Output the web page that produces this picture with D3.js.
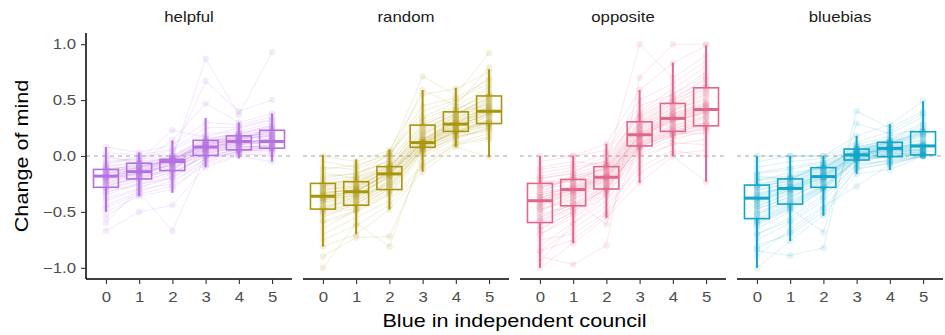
<!DOCTYPE html>
<html>
<head>
<meta charset="utf-8">
<script src="https://cdn.jsdelivr.net/npm/d3@7"></script>
<style>
  body { margin: 0; background: #fff; }
  svg text { font-family: "Liberation Sans", Arial, sans-serif; }
</style>
</head>
<body>
<svg id="chart" width="945" height="335"></svg>
<script>
// facets and x categories
const conditions = ["helpful", "random", "opposite", "bluebias"];
const colors = ["#b570e0", "#a8960a", "#e0668a", "#11a5c9"];
const blueCounts = [0, 1, 2, 3, 4, 5];
const yTicks = [-1.0, -0.5, 0.0, 0.5, 1.0];

// boxplot stats per condition, one entry per blue count
const boxQ1 = [
  [-0.28, -0.205, -0.13, 0.005, 0.055, 0.07],
  [-0.475, -0.44, -0.30, 0.078, 0.22, 0.29],
  [-0.595, -0.445, -0.295, 0.09, 0.22, 0.27],
  [-0.56, -0.43, -0.28, -0.036, -0.006, 0.01]
];
const boxMedian = [
  [-0.18, -0.14, -0.05, 0.08, 0.13, 0.13],
  [-0.36, -0.32, -0.16, 0.12, 0.285, 0.40],
  [-0.40, -0.30, -0.19, 0.19, 0.336, 0.416],
  [-0.377, -0.29, -0.184, 0.01, 0.068, 0.09]
];
const boxQ3 = [
  [-0.12, -0.065, -0.03, 0.14, 0.18, 0.23],
  [-0.245, -0.23, -0.095, 0.276, 0.395, 0.537],
  [-0.245, -0.21, -0.095, 0.306, 0.47, 0.61],
  [-0.26, -0.205, -0.104, 0.062, 0.122, 0.217]
];
const whiskerLow = [
  [-0.50, -0.36, -0.33, -0.10, -0.02, -0.05],
  [-0.81, -0.70, -0.48, -0.14, 0.08, -0.01],
  [-1.00, -0.78, -0.555, -0.24, 0.00, -0.23],
  [-1.00, -0.76, -0.535, -0.16, -0.125, 0.00]
];
const whiskerHigh = [
  [0.08, 0.03, 0.14, 0.34, 0.30, 0.38],
  [0.01, -0.03, 0.06, 0.59, 0.61, 0.775],
  [0.00, 0.00, 0.11, 0.59, 0.835, 0.99],
  [0.00, 0.00, 0.00, 0.18, 0.285, 0.49]
];

// individual participants: change of mind at blue = 0..5
const helpfulRows = [
  [-0.18,-0.14,-0.05,0.08,0.13,0.13],
  [-0.25,-0.20,-0.10,0.02,0.08,0.10],
  [-0.12,-0.08,-0.03,0.12,0.17,0.20],
  [-0.30,-0.22,-0.15,0.00,0.06,0.08],
  [-0.20,-0.15,-0.04,0.10,0.15,0.25],
  [-0.10,-0.05,0.00,0.14,0.18,0.23],
  [-0.50,-0.36,-0.30,-0.05,0.05,0.05],
  [0.08,0.03,0.10,0.30,0.28,0.35],
  [-0.28,-0.18,-0.12,0.05,0.10,0.12],
  [-0.15,-0.10,-0.02,0.08,0.12,0.15],
  [-0.22,-0.12,-0.06,0.06,0.14,0.18],
  [-0.67,-0.50,-0.44,-0.10,0.00,-0.05],
  [-0.05,-0.02,0.05,0.20,0.22,0.30],
  [-0.35,-0.25,-0.20,0.03,0.07,0.10],
  [-0.18,-0.16,-0.08,0.12,0.13,0.14],
  [-0.40,-0.30,-0.25,-0.02,0.04,0.07],
  [-0.14,-0.06,0.14,0.47,0.30,0.38],
  [-0.08,0.00,0.02,0.67,0.40,0.50],
  [-0.20,-0.10,-0.03,0.87,0.37,0.93],
  [-0.55,-0.33,-0.67,0.00,0.02,0.00],
  [-0.26,-0.20,-0.13,0.09,0.16,0.22],
  [-0.16,-0.12,-0.04,0.14,0.20,0.26],
  [-0.60,-0.28,-0.18,0.04,0.09,0.06],
  [-0.02,-0.04,0.23,0.17,0.25,0.32],
  [-0.24,-0.18,-0.07,0.08,0.11,0.16],
  [-0.32,-0.26,-0.16,0.01,0.05,0.09],
  [-0.11,-0.09,-0.05,0.10,0.18,0.20],
  [-0.19,-0.13,-0.09,0.06,0.12,0.12],
  [-0.44,-0.32,-0.22,-0.06,0.03,0.04],
  [0.00,-0.07,-0.01,0.16,0.19,0.28],
  [-0.21,-0.16,-0.06,0.07,0.14,0.11],
  [-0.13,-0.11,-0.02,0.11,0.16,0.17],
  [-0.27,-0.19,-0.11,0.03,0.09,0.08],
  [-0.17,-0.14,-0.04,0.09,0.13,0.15],
  [-0.23,-0.17,-0.07,0.04,0.10,0.13],
  [-0.09,-0.06,-0.01,0.13,0.17,0.21],
  [-0.29,-0.21,-0.12,0.02,0.08,0.09],
  [-0.15,-0.13,-0.03,0.10,0.15,0.19],
  [-0.20,-0.09,-0.05,0.12,0.14,0.24],
  [-0.33,-0.24,-0.14,-0.01,0.06,0.07],
  [-0.06,-0.03,0.01,0.15,0.21,0.27],
  [-0.19,-0.17,-0.06,0.07,0.12,0.14],
  [-0.25,-0.14,-0.08,0.05,0.11,0.12],
  [-0.38,-0.29,-0.19,-0.03,0.04,0.06],
  [-0.12,-0.10,-0.04,0.13,0.16,0.18],
  [-0.17,-0.07,-0.02,0.11,0.20,0.22],
  [0.03,0.01,0.06,0.25,0.26,0.33],
  [-0.46,-0.34,-0.27,-0.08,0.01,0.02],
  [-0.22,-0.15,-0.10,0.06,0.10,0.16],
  [-0.14,-0.11,-0.03,0.09,0.15,0.19]
];
const randomRows = [
  [-0.36,-0.32,-0.16,0.12,0.28,0.40],
  [-0.45,-0.40,-0.25,0.08,0.22,0.30],
  [-0.25,-0.23,-0.10,0.25,0.38,0.52],
  [-0.50,-0.45,-0.30,0.05,0.20,0.28],
  [-0.30,-0.28,-0.12,0.15,0.30,0.45],
  [0.00,-0.05,0.05,0.55,0.60,0.75],
  [-0.81,-0.70,-0.48,-0.14,0.08,-0.01],
  [-0.40,-0.35,-0.20,0.10,0.25,0.35],
  [-0.20,-0.15,-0.05,0.30,0.42,0.55],
  [-0.60,-0.50,-0.35,0.00,0.15,0.25],
  [-0.90,-0.73,-0.72,-0.05,0.12,0.20],
  [-1.00,-0.60,-0.81,0.02,0.18,0.22],
  [-0.33,-0.30,-0.15,0.13,0.30,0.42],
  [-0.42,-0.38,-0.18,0.20,0.35,0.50],
  [-0.10,-0.12,0.00,0.40,0.50,0.65],
  [-0.28,-0.25,-0.08,0.28,0.40,0.60],
  [-0.55,-0.42,-0.28,0.07,0.24,0.32],
  [-0.38,-0.33,-0.14,0.11,0.27,0.38],
  [-0.47,-0.44,-0.22,0.09,0.21,0.29],
  [-0.15,-0.20,-0.02,0.59,0.45,0.79],
  [-0.22,-0.18,0.02,0.71,0.55,0.92],
  [-0.70,-0.55,-0.40,-0.08,0.10,0.15],
  [-0.35,-0.27,-0.13,0.14,0.33,0.48],
  [-0.26,-0.22,-0.09,0.18,0.36,0.53],
  [-0.48,-0.36,-0.26,0.06,0.22,0.31],
  [-0.32,-0.31,-0.17,0.12,0.29,0.43],
  [-0.65,-0.48,-0.32,0.03,0.16,0.26],
  [-0.05,-0.10,0.03,0.35,0.48,0.70],
  [-0.40,-0.29,-0.11,0.22,0.39,0.46],
  [-0.37,-0.34,-0.19,0.10,0.26,0.39],
  [-0.34,-0.30,-0.15,0.11,0.27,0.37],
  [-0.44,-0.39,-0.24,0.09,0.23,0.31],
  [-0.27,-0.24,-0.11,0.24,0.37,0.51],
  [-0.39,-0.36,-0.17,0.13,0.31,0.44],
  [-0.31,-0.26,-0.10,0.16,0.33,0.47],
  [-0.52,-0.47,-0.29,0.06,0.19,0.27],
  [-0.24,-0.21,-0.07,0.27,0.41,0.56],
  [-0.36,-0.31,-0.16,0.12,0.28,0.41],
  [-0.46,-0.41,-0.21,0.08,0.22,0.33],
  [-0.29,-0.27,-0.12,0.19,0.34,0.49],
  [-0.58,-0.49,-0.34,0.04,0.17,0.24],
  [-0.18,-0.16,-0.04,0.33,0.44,0.62],
  [-0.41,-0.37,-0.23,0.10,0.24,0.36],
  [-0.35,-0.32,-0.14,0.14,0.30,0.40],
  [-0.49,-0.43,-0.27,0.07,0.21,0.30],
  [-0.12,-0.08,0.01,0.45,0.52,0.68],
  [-0.33,-0.29,-0.13,0.15,0.32,0.44],
  [-0.75,-0.62,-0.44,-0.10,0.11,0.17],
  [-0.38,-0.35,-0.18,0.11,0.26,0.38],
  [-0.27,-0.19,-0.09,0.21,0.37,0.54]
];
const oppositeRows = [
  [-0.40,-0.30,-0.19,0.19,0.34,0.42],
  [-0.60,-0.45,-0.30,0.09,0.22,0.27],
  [-0.25,-0.21,-0.10,0.30,0.47,0.61],
  [-0.80,-0.60,-0.40,0.00,0.10,0.15],
  [0.00,0.00,0.11,0.59,0.83,0.99],
  [-1.00,-0.78,-0.55,-0.24,0.00,-0.23],
  [-0.50,-0.35,-0.22,0.15,0.30,0.40],
  [-0.30,-0.25,-0.15,0.25,0.40,0.55],
  [-0.15,-0.10,-0.05,0.40,0.60,0.80],
  [-0.70,-0.55,-0.35,0.05,0.18,0.25],
  [-0.45,-0.32,-0.20,0.20,0.35,0.45],
  [-0.90,-0.97,-0.80,0.70,1.00,1.00],
  [-0.35,-0.28,-0.17,0.18,0.32,0.38],
  [-0.20,-0.15,0.00,0.35,0.50,0.70],
  [-0.55,-0.40,-0.61,0.10,0.25,0.30],
  [-0.65,-0.50,-0.28,0.08,0.20,0.20],
  [-0.10,-0.05,-0.08,1.00,0.70,0.90],
  [-0.38,-0.26,-0.12,0.22,0.38,0.48],
  [-0.28,-0.22,-0.14,0.28,0.44,0.58],
  [-0.85,-0.65,-0.45,-0.10,0.05,0.00],
  [-0.42,-0.33,-0.21,0.17,0.33,0.43],
  [-0.05,0.00,0.05,0.50,0.65,0.85],
  [-0.58,-0.42,-0.26,0.12,0.24,0.33],
  [-0.33,-0.18,-0.11,0.27,0.42,0.50],
  [-0.48,-0.38,-0.24,0.14,0.28,0.36],
  [-0.75,-0.70,-0.50,-0.05,0.12,0.10],
  [-0.22,-0.24,-0.09,0.31,0.48,0.65],
  [-0.40,-0.30,-0.18,0.20,0.36,0.46],
  [-0.95,-0.60,-0.35,0.02,0.15,0.22],
  [-0.12,-0.08,0.02,0.45,0.55,0.75],
  [-0.42,-0.31,-0.20,0.18,0.33,0.41],
  [-0.55,-0.43,-0.28,0.11,0.23,0.29],
  [-0.27,-0.22,-0.11,0.29,0.46,0.60],
  [-0.38,-0.29,-0.18,0.21,0.37,0.45],
  [-0.62,-0.47,-0.30,0.08,0.21,0.28],
  [-0.18,-0.13,-0.04,0.38,0.55,0.72],
  [-0.46,-0.36,-0.23,0.16,0.31,0.39],
  [-0.33,-0.27,-0.16,0.24,0.40,0.52],
  [-0.52,-0.44,-0.27,0.12,0.26,0.34],
  [-0.29,-0.20,-0.12,0.26,0.43,0.56],
  [-0.70,-0.52,-0.33,0.06,0.18,0.24],
  [-0.37,-0.31,-0.19,0.19,0.35,0.43],
  [-0.44,-0.34,-0.22,0.17,0.32,0.40],
  [-0.24,-0.19,-0.08,0.33,0.50,0.63],
  [-0.58,-0.46,-0.29,0.10,0.22,0.30],
  [-0.85,-0.75,-0.52,-0.15,0.02,0.05],
  [-0.35,-0.28,-0.17,0.23,0.38,0.47],
  [-0.48,-0.39,-0.25,0.13,0.27,0.35],
  [-0.20,-0.16,-0.07,0.36,0.52,0.68],
  [-0.66,-0.50,-0.31,0.09,0.19,0.26]
];
const bluebiasRows = [
  [-0.38,-0.29,-0.18,0.01,0.07,0.09],
  [-0.56,-0.43,-0.28,-0.04,0.00,0.01],
  [-0.26,-0.20,-0.10,0.06,0.12,0.22],
  [-0.70,-0.55,-0.35,-0.08,-0.05,0.00],
  [0.00,0.00,0.00,0.18,0.28,0.49],
  [-1.00,-0.76,-0.53,-0.16,-0.12,0.00],
  [-0.45,-0.33,-0.22,0.00,0.05,0.05],
  [-0.30,-0.25,-0.14,0.03,0.09,0.15],
  [-0.15,-0.10,-0.05,0.08,0.15,0.30],
  [-0.85,-0.89,-0.82,0.40,0.25,0.40],
  [-0.60,-0.47,-0.68,0.29,0.20,0.35],
  [-0.40,-0.31,-0.19,0.02,0.06,0.08],
  [-0.20,-0.18,-0.08,0.05,0.11,0.20],
  [-0.50,-0.40,-0.26,-0.02,0.02,0.03],
  [-0.90,-0.65,-0.45,-0.27,-0.08,0.00],
  [-0.35,-0.27,-0.16,0.01,0.08,0.10],
  [-0.10,-0.05,-0.02,0.10,0.18,0.25],
  [-0.65,-0.50,-0.30,-0.05,0.00,0.02],
  [-0.28,-0.22,-0.12,0.04,0.10,0.18],
  [-0.48,-0.36,-0.24,-0.01,0.04,0.06],
  [-0.33,-0.28,-0.17,0.02,0.07,0.12],
  [-0.75,-0.60,-0.40,-0.10,-0.03,0.01],
  [-0.05,0.00,0.00,0.12,0.22,0.38],
  [-0.42,-0.30,-0.20,0.00,0.05,0.07],
  [-0.22,-0.15,-0.11,0.06,0.13,0.22],
  [-0.58,-0.45,-0.29,-0.03,0.01,0.04],
  [-0.80,-0.70,-0.50,-0.12,-0.06,0.00],
  [-0.37,-0.26,-0.15,0.03,0.09,0.11],
  [-0.18,-0.21,-0.07,0.07,0.14,0.28],
  [-0.52,-0.38,-0.23,-0.02,0.03,0.05],
  [-0.36,-0.28,-0.17,0.01,0.06,0.08],
  [-0.52,-0.41,-0.27,-0.03,0.01,0.02],
  [-0.28,-0.21,-0.11,0.05,0.11,0.19],
  [-0.40,-0.30,-0.19,0.00,0.07,0.09],
  [-0.62,-0.48,-0.31,-0.04,-0.01,0.01],
  [-0.22,-0.19,-0.09,0.06,0.12,0.21],
  [-0.45,-0.34,-0.21,-0.01,0.04,0.05],
  [-0.34,-0.27,-0.16,0.02,0.08,0.11],
  [-0.57,-0.44,-0.28,-0.02,0.02,0.03],
  [-0.27,-0.23,-0.12,0.04,0.10,0.17],
  [-0.70,-0.58,-0.37,-0.07,-0.04,0.00],
  [-0.31,-0.24,-0.13,0.03,0.09,0.14],
  [-0.47,-0.37,-0.22,0.00,0.05,0.06],
  [-0.16,-0.12,-0.06,0.08,0.14,0.24],
  [-0.60,-0.46,-0.30,-0.03,0.00,0.02],
  [-0.39,-0.29,-0.18,0.02,0.07,0.10],
  [-0.83,-0.68,-0.47,-0.11,-0.07,0.00],
  [-0.25,-0.20,-0.10,0.05,0.12,0.20],
  [-0.43,-0.32,-0.20,0.01,0.06,0.08],
  [-0.54,-0.42,-0.27,-0.02,0.03,0.04]
];
const participants = [helpfulRows, randomRows, oppositeRows, bluebiasRows];

// layout
const panelLeft = 86, panelW = 206, panelGap = 11;
const panelTop = 33, panelBottom = 279;
const textStretch = 1.2; // reference glyphs are wider than Liberation Sans
const tickFont = 14, titleFont = 18;

const svg = d3.select("#chart");

const x = d3.scaleLinear().domain([-0.6, 5.6]).range([0, panelW]);
const y = d3.scaleLinear().domain([-1.1, 1.1]).range([panelBottom, panelTop]);
const boxW = x(0.375) - x(0);

const line = d3.line()
  .x((d, i) => x(blueCounts[i]))
  .y(d => y(d));

conditions.forEach((cond, ci) => {
  const col = colors[ci];
  const g = svg.append("g")
    .attr("transform", `translate(${panelLeft + ci * (panelW + panelGap)},0)`);

  // strip label
  g.append("text")
    .attr("transform", `translate(${panelW / 2},22) scale(${textStretch},1)`)
    .attr("text-anchor", "middle")
    .attr("font-size", tickFont)
    .attr("fill", "#1a1a1a")
    .text(cond);

  // zero reference line
  g.append("line")
    .attr("x1", 0).attr("x2", panelW)
    .attr("y1", y(0)).attr("y2", y(0))
    .attr("stroke", "#a6a6a6")
    .attr("stroke-width", 1.1)
    .attr("stroke-dasharray", "4,4");

  const rows = participants[ci];

  // participant trajectories
  g.append("g")
    .selectAll("path")
    .data(rows)
    .join("path")
    .attr("d", line)
    .attr("fill", "none")
    .attr("stroke", col)
    .attr("stroke-opacity", 0.16)
    .attr("stroke-width", 1);

  // participant points
  g.append("g")
    .selectAll("g")
    .data(rows)
    .join("g")
    .selectAll("circle")
    .data(d => d)
    .join("circle")
    .attr("cx", (d, i) => x(blueCounts[i]))
    .attr("cy", d => y(d))
    .attr("r", 3.3)
    .attr("fill", col)
    .attr("fill-opacity", 0.13);

  // boxplots
  const boxes = g.append("g")
    .selectAll("g")
    .data(blueCounts)
    .join("g")
    .attr("transform", d => `translate(${x(d)},0)`);

  boxes.append("line")
    .attr("y1", (d, i) => y(whiskerHigh[ci][i]))
    .attr("y2", (d, i) => y(boxQ3[ci][i]))
    .attr("stroke", col).attr("stroke-width", 2);
  boxes.append("line")
    .attr("y1", (d, i) => y(boxQ1[ci][i]))
    .attr("y2", (d, i) => y(whiskerLow[ci][i]))
    .attr("stroke", col).attr("stroke-width", 2);
  boxes.append("rect")
    .attr("x", -boxW)
    .attr("width", boxW * 2)
    .attr("y", (d, i) => y(boxQ3[ci][i]))
    .attr("height", (d, i) => y(boxQ1[ci][i]) - y(boxQ3[ci][i]))
    .attr("fill", "none")
    .attr("stroke", col)
    .attr("stroke-width", 1.6);
  boxes.append("line")
    .attr("x1", -boxW).attr("x2", boxW)
    .attr("y1", (d, i) => y(boxMedian[ci][i]))
    .attr("y2", (d, i) => y(boxMedian[ci][i]))
    .attr("stroke", col).attr("stroke-width", 3);

  // x axis
  const xAxis = g.append("g")
    .attr("transform", `translate(0,${panelBottom})`)
    .call(d3.axisBottom(x).tickValues(blueCounts).tickFormat(d3.format("d")).tickSize(5));
  xAxis.select(".domain").attr("stroke", "#000").attr("stroke-width", 1.5).attr("d", `M0,0H${panelW}`);
  xAxis.selectAll(".tick line").attr("stroke", "#333").attr("stroke-width", 1.1);
  xAxis.selectAll(".tick text")
    .attr("y", null).attr("dy", null)
    .attr("transform", `translate(0,22.7) scale(${textStretch},1)`)
    .attr("font-size", tickFont).attr("fill", "#4d4d4d")
    .attr("font-family", "Liberation Sans, Arial, sans-serif");

  // y axis only on first facet
  if (ci === 0) {
    const yAxis = g.append("g")
      .call(d3.axisLeft(y).tickValues(yTicks).tickFormat(d3.format(".1f")).tickSize(5));
    yAxis.select(".domain").attr("stroke", "#000").attr("stroke-width", 1.5)
      .attr("d", `M0,${panelTop}V${panelBottom}`);
    yAxis.selectAll(".tick line").attr("stroke", "#333").attr("stroke-width", 1.1);
    yAxis.selectAll(".tick text")
      .attr("x", null)
      .attr("transform", `translate(-10,0) scale(${textStretch},1)`)
      .attr("font-size", tickFont).attr("fill", "#4d4d4d")
      .attr("font-family", "Liberation Sans, Arial, sans-serif")
      .text(d => d3.format(".1f")(d).replace("-", "\u2212"));
  }
});

// axis titles
const totalRight = panelLeft + 4 * panelW + 3 * panelGap;
svg.append("text")
  .attr("transform", `translate(${(panelLeft + totalRight) / 2},327) scale(${textStretch},1)`)
  .attr("text-anchor", "middle")
  .attr("font-size", titleFont)
  .attr("fill", "#000")
  .text("Blue in independent council");

svg.append("text")
  .attr("transform", `translate(28,${(panelTop + panelBottom) / 2}) rotate(-90) scale(${textStretch},1)`)
  .attr("text-anchor", "middle")
  .attr("font-size", titleFont)
  .attr("fill", "#000")
  .text("Change of mind");
</script>
</body>
</html>
